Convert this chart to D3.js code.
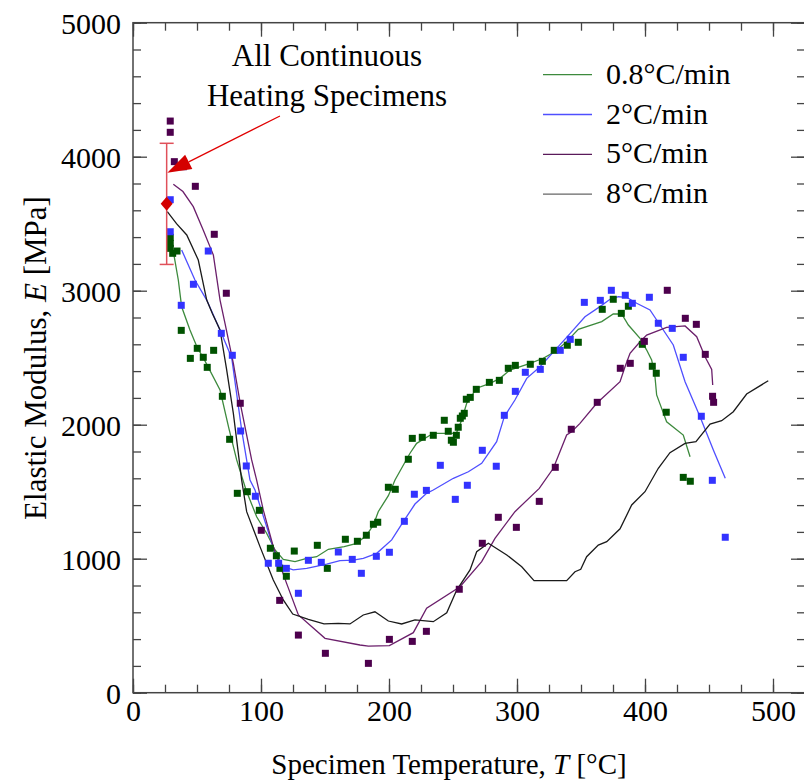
<!DOCTYPE html>
<html>
<head>
<meta charset="utf-8">
<script src="https://cdn.jsdelivr.net/npm/d3@7"></script>
<style>
  body { margin: 0; background: #fff; }
  text { font-family: "Liberation Serif", "Times New Roman", serif; fill: #000; }
</style>
</head>
<body>
<div id="chart"></div>
<script>
// series names
var rates = ['0.8°C/min', '2°C/min', '5°C/min', '8°C/min'];

// fitted curves [T, E]
var line08 = [[32,3266],[35.4,3080],[38,2880],[44.5,2707],[50,2580],[56,2480],[68,2259],[75,1969],[81,1737],[88.3,1513],[96.6,1313],[104.4,1190],[111,1065],[117.4,995],[126.6,978],[135.7,1003],[143.5,1015],[152.6,1070],[165,1090],[174.8,1115],[182.6,1177],[187.8,1251],[191.6,1351],[199.5,1470],[204.7,1587],[216.4,1787],[221.6,1861],[234.6,1936],[247.7,1936],[252.6,1936],[256.8,2035],[260.7,2160],[268.5,2272],[278.9,2309],[286.7,2346],[294.5,2408],[310.2,2458],[320.5,2496],[329.7,2545],[338.8,2620],[347.9,2712],[366.2,2769],[375.2,2826],[381.8,2826],[387,2744],[396.1,2645],[401.3,2557],[405.2,2483],[407.8,2358],[409.1,2222],[413,2122],[416.9,2022],[429.9,1923],[435.2,1761]];
var line2 = [[38,3304],[48.4,3080],[57.6,2930],[69,2684],[77.1,2500],[84.9,1960],[91.4,1587],[95.3,1513],[104.4,1239],[111,1040],[117.4,940],[125.2,916],[135.7,928],[151.3,960],[161.7,985],[172.1,990],[179.9,1003],[190.4,1040],[202.1,1140],[211.2,1276],[220.3,1408],[229.4,1488],[234.6,1513],[250.3,1600],[262,1649],[272.4,1712],[284.1,1873],[290.1,2060],[298.4,2184],[307.6,2346],[318,2433],[331,2570],[341.4,2680],[353.1,2806],[364.8,2881],[372.7,2936],[379.2,2955],[385.7,2951],[393.5,2906],[403.9,2856],[411.7,2744],[422.1,2595],[431.3,2321],[443,2060],[453.4,1811],[462.7,1600]];
var line5 = [[31.5,3794],[39,3740],[47.1,3627],[55,3450],[62.8,3266],[68,2930],[72,2750],[78.4,2458],[83.8,2160],[92.7,1737],[96.6,1587],[101.8,1363],[109.6,1090],[120,816],[129.2,580],[150,406],[177.3,356],[183.9,348],[200.3,351],[219,448],[229.4,630],[255.5,791],[272.4,978],[282.8,1152],[298.4,1351],[317.4,1525],[328.4,1675],[338.8,1923],[342.7,1948],[349.2,2010],[362.3,2160],[380.5,2321],[384.4,2433],[388.3,2533],[396.1,2619],[401.3,2669],[416.9,2727],[431.3,2737],[440.4,2657],[446.9,2507],[452.1,2413],[452.9,2296]];
var line8 = [[26.8,3590],[34,3500],[42,3416],[51,3229],[57.6,2930],[62,2830],[68,2707],[73,2420],[78.4,2085],[84.9,1587],[88.8,1351],[99.2,1090],[109.6,841],[117.4,692],[124.8,587],[137,548],[149.2,513],[160.4,518],[169.5,513],[179.9,580],[189,604],[199.5,535],[209.9,513],[220.3,543],[234.6,530],[245.1,597],[252.9,766],[263.3,916],[268.5,1052],[277.6,1115],[292,1028],[303.7,940],[313.3,836],[338.8,836],[345.3,903],[349.8,921],[354.4,1015],[363.5,1102],[370.1,1127],[380.5,1223],[389.6,1401],[400,1500],[410.4,1675],[419.5,1791],[431.3,1861],[439.8,1873],[450.8,2005],[459.9,2030],[469,2097],[479.4,2229],[496.3,2328]];

// measured specimens [T, E]
var pts08 = [[29.1,3398],[29.1,3353],[29.1,3316],[31,3279],[34.4,3296],[37.7,2704],[44.8,2495],[50.2,2570],[54.9,2503],[58,2428],[63,2555],[69.8,2212],[75.5,1891],[81.5,1488],[89.3,1500],[98.7,1361],[107.3,1078],[112,1022],[114.8,928],[119.8,869],[126,1057],[144,1100],[151.8,928],[165.9,1145],[175.3,1130],[182.3,1175],[187.8,1257],[191.2,1272],[199.5,1533],[204.9,1518],[215.1,1742],[218.2,1898],[226,1906],[234.6,1921],[243.2,2033],[246.3,1951],[248.7,1884],[250.3,1869],[252.6,1921],[254.1,1981],[255.7,2048],[257.3,2065],[258.8,2085],[260.4,2190],[263.5,2204],[268.2,2264],[278.4,2316],[286.2,2331],[293.2,2421],[298.7,2443],[310.4,2451],[319.8,2473],[329.1,2555],[339.3,2593],[347.9,2615],[366.6,2861],[375.2,2936],[381.5,2831],[387,2884],[397.9,2600],[405.7,2436],[408.8,2384],[416.6,2093],[429.9,1607],[435.4,1578]];
var pts2 = [[29.1,3679],[29.1,3440],[37.7,2891],[47.2,3048],[58.8,3296],[69,2682],[77.6,2518],[84.1,1953],[88.5,1692],[95.6,1466],[105.7,966],[113.8,966],[119.8,928],[129.2,742],[137,988],[147.1,973],[160.4,1050],[171.3,995],[178.4,891],[190.1,1018],[200.3,1048],[212,1279],[219.8,1481],[229.2,1510],[240.1,1697],[251.8,1443],[261.2,1548],[272.9,1809],[283.8,1690],[290.1,2070],[298.7,2249],[306.5,2391],[318.2,2413],[333.8,2555],[341.6,2637],[352.6,2913],[365.1,2928],[373.7,3003],[384.6,2966],[390.1,2906],[403.4,2951],[410.4,2757],[421.3,2719],[429.9,2503],[444,2063],[452.6,1585],[462.7,1160]];
var pts5 = [[29.1,4266],[29.1,4182],[32.3,3963],[39.3,3925],[48.7,3779],[63.5,3421],[72.9,2981],[83.8,2160],[100.2,1212],[114.6,689],[129.2,430],[150.3,294],[183.9,219],[200.3,398],[218.2,383],[229.2,458],[254.9,772],[272.9,1115],[285.4,1309],[299.5,1234],[317.4,1428],[329.9,1682],[342.4,1966],[362.7,2167],[380.7,2421],[388.5,2458],[399.5,2622],[417.4,3003],[431.5,2794],[440.1,2749],[447.1,2525],[452.8,2212],[453.6,2167]];

// mean of all continuous heating specimens
var meanT = 26.3, meanE = 3648, meanErr = 452;

var width = 804, height = 784;
var m = {left: 133, top: 22.7, right: 805, bottom: 692.7};

var x = d3.scaleLinear().domain([0, 525]).range([m.left, m.right]);
var y = d3.scaleLinear().domain([0, 5000]).range([m.bottom, m.top]);

var svg = d3.select('#chart').append('svg')
    .attr('width', width)
    .attr('height', height);

var axisCol = '#444';

// minor + major ticks, pointing inward on all four sides
function ticks(g) { g.selectAll('.domain').remove(); g.selectAll('line').attr('stroke', axisCol).attr('stroke-width', 1.3); }
svg.append('g').attr('transform', 'translate(0,' + m.bottom + ')')
    .call(d3.axisBottom(x).tickValues(d3.range(0, 526, 25)).tickSize(-8).tickFormat('')).call(ticks);
svg.append('g').attr('transform', 'translate(0,' + m.bottom + ')')
    .call(d3.axisBottom(x).tickValues(d3.range(0, 501, 100)).tickSize(-14).tickPadding(28).tickFormat(d3.format('d'))).call(ticks)
    .selectAll('text').style('font-size', '30px').attr('dy', '0');
svg.append('g').attr('transform', 'translate(0,' + m.top + ')')
    .call(d3.axisTop(x).tickValues(d3.range(0, 526, 25)).tickSize(-8).tickFormat('')).call(ticks);
svg.append('g').attr('transform', 'translate(0,' + m.top + ')')
    .call(d3.axisTop(x).tickValues(d3.range(0, 501, 100)).tickSize(-14).tickFormat('')).call(ticks);
svg.append('g').attr('transform', 'translate(' + m.left + ',0)')
    .call(d3.axisLeft(y).tickValues(d3.range(0, 5001, 200)).tickSize(-8).tickFormat('')).call(ticks);
svg.append('g').attr('transform', 'translate(' + m.left + ',0)')
    .call(d3.axisLeft(y).tickValues(d3.range(0, 5001, 1000)).tickSize(-14).tickPadding(12).tickFormat(d3.format('d'))).call(ticks)
    .selectAll('text').style('font-size', '30px').attr('dy', '0.35em');
svg.append('g').attr('transform', 'translate(' + m.right + ',0)')
    .call(d3.axisRight(y).tickValues(d3.range(0, 5001, 200)).tickSize(-8).tickFormat('')).call(ticks);
svg.append('g').attr('transform', 'translate(' + m.right + ',0)')
    .call(d3.axisRight(y).tickValues(d3.range(0, 5001, 1000)).tickSize(-14).tickFormat('')).call(ticks);
svg.selectAll('.tick text').attr('fill', '#000').style('font-family', '"Liberation Serif", serif');

svg.append('rect')
    .attr('x', m.left).attr('y', m.top)
    .attr('width', m.right - m.left).attr('height', m.bottom - m.top)
    .attr('fill', 'none').attr('stroke', axisCol).attr('stroke-width', 1.5);

// curves
var line = d3.line().x(function(d){return x(d[0]);}).y(function(d){return y(d[1]);});
var curves = [
    {data: line08, color: '#3d8a3d'},
    {data: line2, color: '#4f4fff'},
    {data: line5, color: '#6b1f6b'},
    {data: line8, color: '#1a1a1a'}
];
svg.append('g').selectAll('path').data(curves).enter().append('path')
    .attr('d', function(d){return line(d.data);})
    .attr('fill', 'none')
    .attr('stroke', function(d){return d.color;})
    .attr('stroke-width', 1.3);

// specimen squares
var sq = 7;
var sets = [
    {data: pts08, color: '#005200'},
    {data: pts2, color: '#3333ff'},
    {data: pts5, color: '#4d004d'}
];
sets.forEach(function(s){
    svg.append('g').selectAll('rect').data(s.data).enter().append('rect')
        .attr('x', function(d){return x(d[0]) - sq/2;})
        .attr('y', function(d){return y(d[1]) - sq/2;})
        .attr('width', sq).attr('height', sq)
        .attr('fill', s.color);
});

// error bar + mean diamond
var eb = svg.append('g').attr('stroke', '#e0505a').attr('stroke-width', 1.5);
eb.append('line').attr('x1', x(meanT)).attr('x2', x(meanT))
    .attr('y1', y(meanE + meanErr)).attr('y2', y(meanE - meanErr));
eb.append('line').attr('x1', x(meanT) - 7).attr('x2', x(meanT) + 7)
    .attr('y1', y(meanE + meanErr)).attr('y2', y(meanE + meanErr));
eb.append('line').attr('x1', x(meanT) - 7).attr('x2', x(meanT) + 7)
    .attr('y1', y(meanE - meanErr)).attr('y2', y(meanE - meanErr));
svg.append('path')
    .attr('d', 'M0,-7L6,0L0,7L-6,0Z')
    .attr('transform', 'translate(' + x(meanT) + ',' + y(meanE) + ')')
    .attr('fill', '#d40000');

// annotation arrow
var tip = [x(26.8), y(3881)], tail = [x(114.8), y(4304)];
var ang = Math.atan2(tail[1] - tip[1], tail[0] - tip[0]);
var hl = 24, hw = 8;
var bx = tip[0] + hl * Math.cos(ang), by = tip[1] + hl * Math.sin(ang);
svg.append('line')
    .attr('x1', tail[0]).attr('y1', tail[1]).attr('x2', bx).attr('y2', by)
    .attr('stroke', '#e00000').attr('stroke-width', 1.2);
svg.append('path')
    .attr('d', 'M' + tip[0] + ',' + tip[1] +
        'L' + (bx - hw * Math.sin(ang)) + ',' + (by + hw * Math.cos(ang)) +
        'L' + (bx + hw * Math.sin(ang)) + ',' + (by - hw * Math.cos(ang)) + 'Z')
    .attr('fill', '#d40000');

svg.append('text').attr('x', 327).attr('y', 66).attr('text-anchor', 'middle')
    .style('font-size', '31px').text('All Continuous');
svg.append('text').attr('x', 327).attr('y', 106).attr('text-anchor', 'middle')
    .style('font-size', '31px').text('Heating Specimens');

// legend
var legCols = ['#3d8a3d', '#4f4fff', '#5a1a5a', '#666'];
var leg = svg.append('g').selectAll('g').data(rates).enter().append('g')
    .attr('transform', function(d, i){return 'translate(543,' + (74.7 + i * 39.8) + ')';});
leg.append('line').attr('x1', 0).attr('x2', 49)
    .attr('stroke', function(d, i){return legCols[i];}).attr('stroke-width', 1.3);
leg.append('text').attr('x', 63).attr('y', 9).style('font-size', '30px').text(function(d){return d;});

// axis titles
var xt = svg.append('text').attr('x', 449).attr('y', 774).attr('text-anchor', 'middle').style('font-size', '29px');
xt.append('tspan').text('Specimen Temperature, ');
xt.append('tspan').style('font-style', 'italic').text('T');
xt.append('tspan').text(' [°C]');

var yt = svg.append('text').attr('transform', 'translate(46,358) rotate(-90)').attr('text-anchor', 'middle').style('font-size', '31px');
yt.append('tspan').text('Elastic Modulus, ');
yt.append('tspan').style('font-style', 'italic').text('E');
yt.append('tspan').text(' [MPa]');
</script>
</body>
</html>
